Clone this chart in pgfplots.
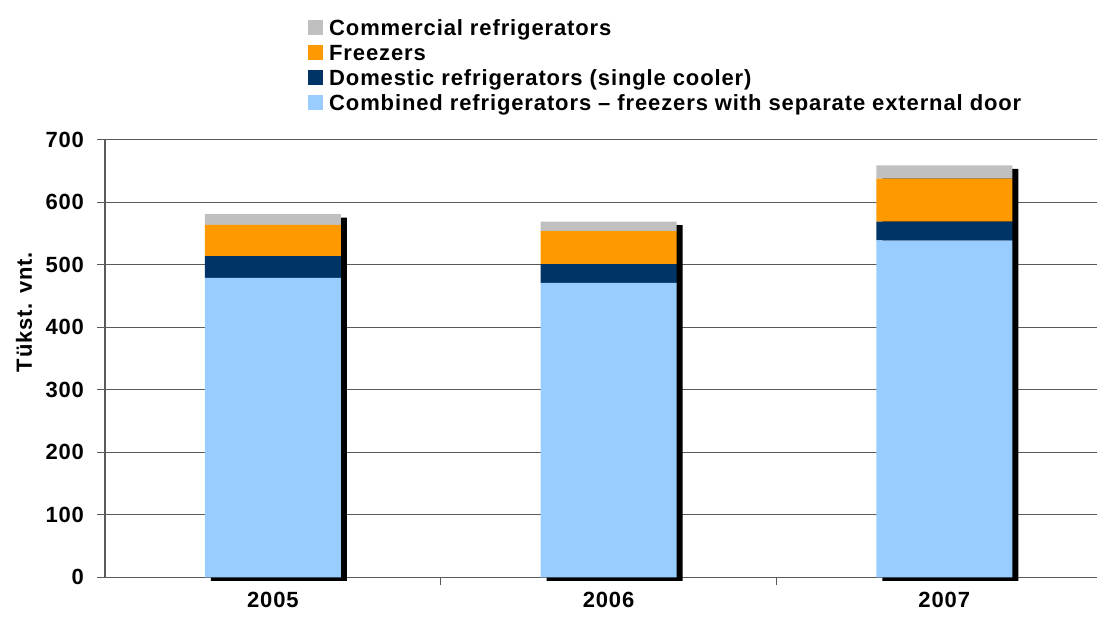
\documentclass[border=0pt]{standalone}
\usepackage{pgfplots}
\pgfplotsset{compat=1.18}
\usepackage{pgfplotstable}
\usepackage{fontspec}
\setmainfont{Liberation Sans}[LetterSpace=4]

\definecolor{commgray}{HTML}{C0C0C0}
\definecolor{frzorange}{HTML}{FF9900}
\definecolor{domnavy}{HTML}{003366}
\definecolor{combblue}{HTML}{99CCFF}
\definecolor{linegray}{HTML}{5A5A5A}

\pgfplotstableread{
x comb dom frz comm total
0 479 35 50 17 581
1 471 30 53 15 569
2 539 30 69 21 659
}\fridgedata

\newcommand{\chartfont}{\fontsize{22}{26}\selectfont\bfseries}

\pgfplotsset{
  fridgebase/.style={
    scale only axis, width=992pt, height=437.5pt,
    at={(105pt,45.7pt)}, anchor=south west,
    xmin=-0.5, xmax=2.455, ymin=0, ymax=700,
  },
}

\begin{document}
\begin{tikzpicture}
% grid, axes, labels and the black shadow behind each bar
\begin{axis}[fridgebase,
  axis x line*=bottom, axis y line*=left,
  axis line style={linegray, line width=1.3pt, -},
  ytick={0,100,...,700},
  ymajorgrids, grid style={linegray, line width=1.3pt},
  tick align=outside, major tick length=8pt,
  tick style={linegray, line width=1.3pt},
  xtick={0.5,1.5}, xticklabels={},
  extra x ticks={0,1,2}, extra x tick labels={2005,2006,2007},
  extra x tick style={grid=none, major tick length=0pt,
    xticklabel style={yshift=-11.5pt}},
  yticklabel style={xshift=-9.5pt},
  tick label style={font=\chartfont,
    /pgf/number format/assume math mode=true,
    /pgf/number format/1000 sep={}},
  clip=false,
  ybar, bar width=136pt, bar shift=6pt,
]
\addplot[fill=black, draw=none, yshift=-3.5pt] table[x=x, y=total] {\fridgedata};
\node[rotate=90, anchor=center, font=\chartfont]
  at (axis description cs:-0.0816,0.606) {Tükst. vnt.};
\end{axis}
% stacked bars
\begin{axis}[fridgebase, hide axis,
  ybar stacked, bar width=136pt,
  reverse legend,
  legend cell align=left,
  legend image code/.code={\fill[#1] (0pt,-5.6pt) rectangle (15pt,9.4pt);},
  legend style={at={(axis description cs:0.2046,1.2814)}, anchor=north west,
    draw=none, fill=none, inner sep=0pt, column sep=6pt, font=\chartfont,
    nodes={inner xsep=0pt, inner ysep=1.5pt, text height=17pt, text depth=5pt}},
]
\addplot[fill=combblue, draw=none] table[x=x, y=comb] {\fridgedata};
\addlegendentry{Combined refrigerators – freezers with separate external door}
\addplot[fill=domnavy, draw=none] table[x=x, y=dom] {\fridgedata};
\addlegendentry{Domestic refrigerators (single cooler)}
\addplot[fill=frzorange, draw=none] table[x=x, y=frz] {\fridgedata};
\addlegendentry{Freezers}
\addplot[fill=commgray, draw=none] table[x=x, y=comm] {\fridgedata};
\addlegendentry{Commercial refrigerators}
\end{axis}
\pgfresetboundingbox
\path[use as bounding box] (0,0) rectangle (1097pt,623pt);
\end{tikzpicture}
\end{document}
